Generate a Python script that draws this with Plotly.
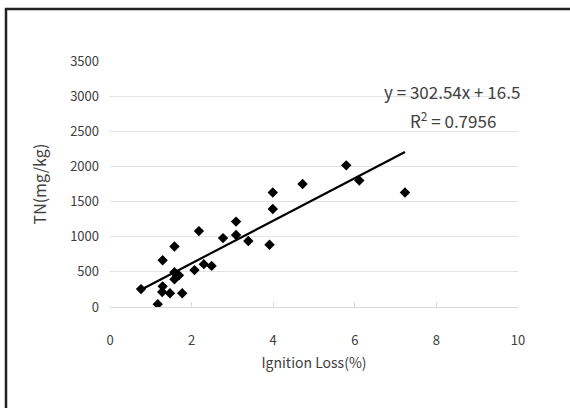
import plotly.graph_objects as go

# Data
ignition_loss = [0.76, 1.17, 1.29, 1.29, 1.28, 1.47, 1.58, 1.58, 1.58, 1.64, 1.69, 1.77,
                 2.07, 2.18, 2.30, 2.49, 2.77, 3.09, 3.09, 3.39, 3.91, 3.99, 3.99, 4.72,
                 5.79, 6.11, 7.23]
tn_mg_kg = [255, 40, 665, 294, 214, 195, 860, 495, 395, 440, 450, 195,
            525, 1080, 610, 585, 980, 1215, 1025, 940, 885, 1395, 1630, 1750,
            2015, 1800, 1630]

slope = 302.54
intercept = 16.5
r_squared = 0.7956

x_ticks = [0, 2, 4, 6, 8, 10]
y_ticks = [0, 500, 1000, 1500, 2000, 2500, 3000, 3500]

trend_x = [min(ignition_loss), max(ignition_loss)]
trend_y = [slope * v + intercept for v in trend_x]

FONT = "Noto Sans CJK KR"
TXT = "#404040"

fig = go.Figure()
fig.add_trace(go.Scatter(
    x=ignition_loss, y=tn_mg_kg, mode="markers",
    marker=dict(symbol="diamond", size=8, color="black"),
    showlegend=False, hoverinfo="skip"))
fig.add_trace(go.Scatter(
    x=trend_x, y=trend_y, mode="lines",
    line=dict(color="black", width=2.2),
    showlegend=False, hoverinfo="skip"))

fig.update_layout(
    width=570, height=408,
    margin=dict(l=110, r=52, t=61, b=101),
    paper_bgcolor="white", plot_bgcolor="white",
    font=dict(family=FONT, size=13, color=TXT),
    xaxis=dict(range=[0, 10], tickvals=x_ticks, showgrid=False, zeroline=False,
               showline=True, linecolor="#d9d9d9", linewidth=1,
               ticks="inside", ticklen=5, tickcolor="#d9d9d9",
               ticklabelstandoff=21,
               title=dict(text="Ignition Loss(%)", standoff=10,
                          font=dict(family=FONT, size=14, color=TXT)),
               fixedrange=True),
    yaxis=dict(range=[0, 3500], tickvals=y_ticks, showgrid=True, gridcolor="#e3e3e3",
               gridwidth=1, zeroline=False, showline=False, ticks="",
               ticklabelstandoff=10,
               title=dict(text="TN(mg/kg)", standoff=19,
                          font=dict(family=FONT, size=16, color=TXT)),
               fixedrange=True),
    annotations=[
        dict(text=f"y = {slope}x + {intercept}", xref="paper", yref="paper",
             x=(452 - 110) / 408, y=(307 - 91) / 246, xanchor="center", yanchor="middle",
             showarrow=False, font=dict(family=FONT, size=17, color=TXT)),
        dict(text=f"R<sup>2</sup> = {r_squared}", xref="paper", yref="paper",
             x=(453 - 110) / 408, y=(307 - 120) / 246, xanchor="center", yanchor="middle",
             showarrow=False, font=dict(family=FONT, size=17, color=TXT)),
    ],
    shapes=[
        dict(type="line", xref="paper", yref="paper",
             x0=(5 - 110) / 408, x1=(572 - 110) / 408,
             y0=(307 - 9) / 246, y1=(307 - 9) / 246,
             line=dict(color="#222222", width=2.5)),
        dict(type="line", xref="paper", yref="paper",
             x0=(6 - 110) / 408, x1=(6 - 110) / 408,
             y0=(307 - 8) / 246, y1=(307 - 412) / 246,
             line=dict(color="#222222", width=2.5)),
    ],
)

fig.write_html("out.html", config={"displayModeBar": False},
               post_script="document.body.style.margin='0';document.body.style.overflow='hidden';")
